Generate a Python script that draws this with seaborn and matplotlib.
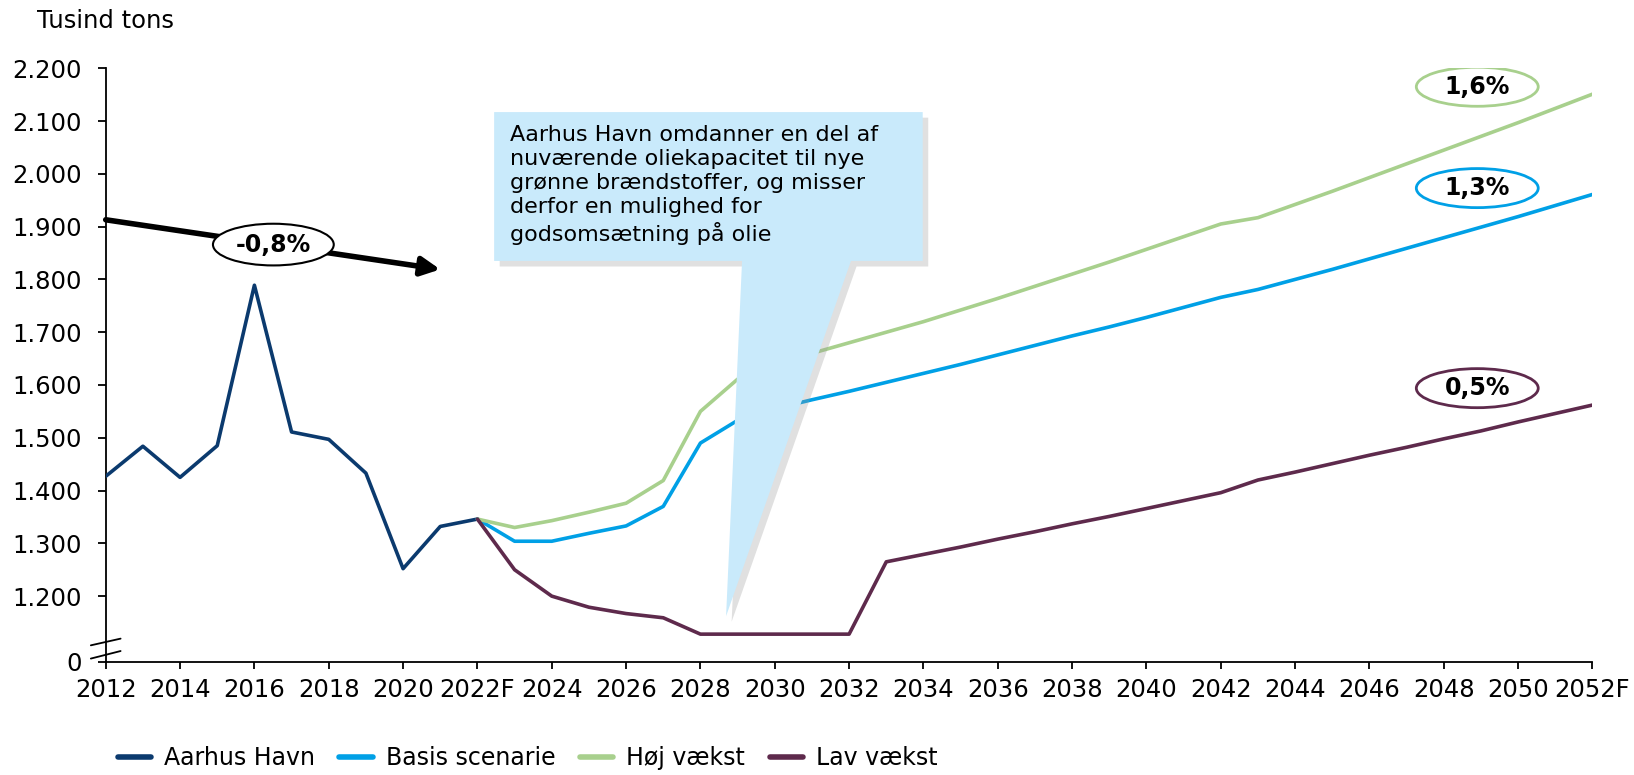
import numpy as np
import pandas as pd
import matplotlib
matplotlib.use('Agg')
import matplotlib.pyplot as plt
import matplotlib.patheffects as pe
from matplotlib.patches import Ellipse, Polygon
import seaborn as sns

#Data
hist_years = list(range(2012, 2023))
aarhus_havn = [1427, 1484, 1425, 1485, 1789, 1511, 1497, 1433, 1252, 1332, 1346]

fc_years = list(range(2022, 2053))
basis = [1346, 1304, 1304, 1319, 1333, 1370, 1490, 1533, 1555, 1572, 1588,
         1605, 1622, 1639, 1657, 1675, 1693, 1710, 1728, 1747, 1766,
         1781, 1800, 1819, 1839, 1859, 1879, 1899, 1919, 1940, 1961]
hoej = [1346, 1330, 1343, 1359, 1376, 1419, 1550, 1611, 1636, 1660, 1680,
        1700, 1720, 1742, 1764, 1787, 1810, 1833, 1857, 1881, 1905,
        1917, 1942, 1967, 1993, 2019, 2045, 2071, 2097, 2124, 2151]
lav = [1346, 1250, 1200, 1179, 1167, 1159, 1128, 1128, 1128, 1128, 1128,
       1265, 1279, 1293, 1308, 1322, 1337, 1351, 1366, 1381, 1396,
       1420, 1435, 1451, 1467, 1482, 1498, 1513, 1530, 1546, 1562]

series_names = ['Aarhus Havn', 'Basis scenarie', 'Høj vækst', 'Lav vækst']
colors = ['#0B3A6E', '#00A0E6', '#A8D08D', '#5E2A4C']
growth_labels = ['1,6%', '1,3%', '0,5%']

tick_years = list(range(2012, 2053, 2))
tick_labels = [str(y) for y in tick_years]
tick_labels[5] = '2022F'
tick_labels[-1] = '2052F'
ytick_vals = [1075.8] + list(range(1200, 2201, 100))
ytick_labels = ['0'] + ['{:,}'.format(v).replace(',', '.') for v in range(1200, 2201, 100)]

df = pd.concat([
    pd.DataFrame({'year': hist_years, 'value': aarhus_havn, 'serie': series_names[0]}),
    pd.DataFrame({'year': fc_years, 'value': basis, 'serie': series_names[1]}),
    pd.DataFrame({'year': fc_years, 'value': hoej, 'serie': series_names[2]}),
    pd.DataFrame({'year': fc_years, 'value': lav, 'serie': series_names[3]}),
])

#Plot
sns.set_style('white')
plt.rcParams['font.family'] = ['DejaVu Sans']
plt.rcParams.update({'text.color': 'black', 'xtick.color': 'black', 'ytick.color': 'black',
                     'axes.labelcolor': 'black'})

fig = plt.figure(figsize=(16.34, 7.75), dpi=100)
ax = fig.add_axes([0.0647, 0.1462, 0.9099, 0.7657])

palette = dict(zip(series_names, colors))
sns.lineplot(data=df, x='year', y='value', hue='serie', palette=palette,
             linewidth=2.6, ax=ax, legend=False, zorder=3)

ax.set_xlim(2012, 2052)
ax.set_ylim(1075.8, 2200)
ax.set_xticks(tick_years)
ax.set_xticklabels(tick_labels)
ax.set_yticks(ytick_vals)
ax.set_yticklabels(ytick_labels)
ax.set_xlabel('')
ax.set_ylabel('')
for s in ['top', 'right']:
    ax.spines[s].set_visible(False)
for s in ['left', 'bottom']:
    ax.spines[s].set_color('black')
    ax.spines[s].set_linewidth(1.3)
ax.tick_params(axis='y', direction='out', length=6, width=1.3, pad=11, labelsize=17.5, left=True)
ax.tick_params(axis='x', direction='out', length=5, width=1.3, pad=7, labelsize=17.5, bottom=True)

fig.text(0.0225, 0.973, 'Tusind tons', fontsize=17.5, va='center', ha='left')

#Axis break marks
for y0, y1 in [(1106.8, 1119.5), (1081.7, 1096)]:
    ax.plot([2011.6, 2012.4], [y0, y1], color='black', lw=1.3, clip_on=False, zorder=5)

#Historical trend arrow
ax.annotate('', xy=(2021.0, 1819), xytext=(2012, 1913),
            arrowprops=dict(arrowstyle='-|>', lw=4, color='black', mutation_scale=28,
                            shrinkA=0, shrinkB=0), zorder=6)
ax.add_patch(Ellipse((2016.51, 1866), 3.25, 79, facecolor='white', edgecolor='black',
                     lw=1.5, zorder=7))
ax.text(2016.51, 1866, '-0,8%', fontsize=17, fontweight='bold', ha='center', va='center', zorder=8)

#Growth ellipses
for lbl, col, yc in zip(growth_labels, [colors[2], colors[1], colors[3]], [2165, 1973, 1594]):
    ax.add_patch(Ellipse((2048.9, yc), 3.28, 74, facecolor='white', edgecolor=col,
                         lw=2, zorder=7))
    ax.text(2048.9, yc, lbl, fontsize=17, fontweight='bold', ha='center', va='center', zorder=8)

#Callout
callout = Polygon([(2022.45, 2117), (2033.98, 2117), (2033.98, 1835), (2032.05, 1835),
                   (2028.69, 1162), (2029.12, 1835), (2022.45, 1835)],
                  closed=True, facecolor='#C9EAFB', edgecolor='none', zorder=9)
callout.set_path_effects([pe.SimplePatchShadow(offset=(4, -4), shadow_rgbFace='#999999', alpha=0.3),
                          pe.Normal()])
ax.add_patch(callout)
ax.text(2022.88, 2093, 'Aarhus Havn omdanner en del af\nnuværende oliekapacitet til nye\n'
        'grønne brændstoffer, og misser\nderfor en mulighed for\ngodsomsætning på olie',
        fontsize=16, ha='left', va='top', linespacing=1.26, zorder=10)

#Legend
handles = [plt.Line2D([0], [0], color=c, lw=4) for c in colors]
fig.legend(handles, series_names, loc='center left', bbox_to_anchor=(0.072, 0.022),
           ncol=4, frameon=False, fontsize=17, handlelength=1.4, handletextpad=0.55,
           columnspacing=1.05, borderaxespad=0, borderpad=0)

fig.savefig('out.png', dpi=100)
